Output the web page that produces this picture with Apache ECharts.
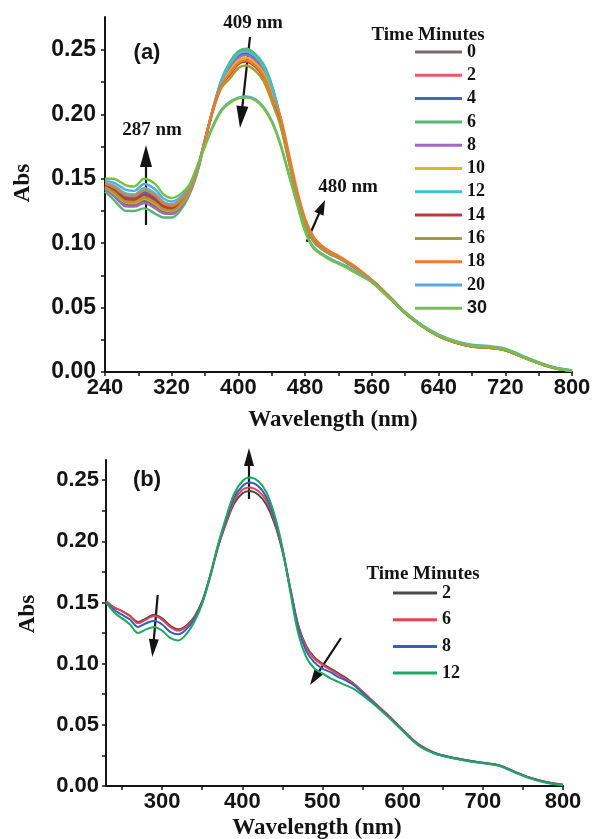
<!DOCTYPE html>
<html><head><meta charset="utf-8">
<script src="https://cdn.jsdelivr.net/npm/echarts@6/dist/echarts.min.js"></script>
<style>html,body{margin:0;padding:0;background:#fff}#c{width:597px;height:839px}</style>
</head><body><div id="c"></div>
<script>
// ---------- Panel (a) data ----------
const WL_A = [240,250,260,265,275,287,300,310,320,330,340,350,360,370,380,390,400,409,420,430,440,450,460,470,480,490,500,510,520,530,540,560,580,600,620,640,660,680,700,720,740,760,780,800];
const TIMES_A = ['0','2','4','6','8','10','12','14','16','18','20','30'];
const A_0  = [0.1425,0.1380,0.1320,0.1300,0.1297,0.1328,0.1288,0.1245,0.1237,0.1283,0.1379,0.1546,0.180,0.205,0.227,0.240,0.248,0.250,0.246,0.238,0.222,0.198,0.168,0.138,0.115,0.102,0.096,0.092,0.089,0.085,0.081,0.071,0.059,0.046,0.036,0.028,0.023,0.020,0.019,0.017,0.012,0.007,0.003,0.001];
const A_2  = [0.1443,0.1409,0.1356,0.1336,0.1331,0.1369,0.1329,0.1277,0.1264,0.1306,0.1394,0.1556,0.180,0.205,0.226,0.238,0.246,0.248,0.244,0.236,0.220,0.197,0.1674,0.138,0.115,0.1015,0.0955,0.0915,0.0885,0.0845,0.0805,0.0705,0.0585,0.0455,0.0355,0.0278,0.0228,0.0198,0.0188,0.0168,0.0118,0.0068,0.0028,0.0008];
const A_4  = [0.1454,0.1426,0.1377,0.1357,0.1352,0.1393,0.1353,0.1296,0.1280,0.1320,0.1403,0.1562,0.1805,0.2055,0.2255,0.237,0.245,0.247,0.243,0.235,0.219,0.1965,0.1671,0.138,0.1152,0.1022,0.0962,0.0922,0.0892,0.0852,0.0812,0.0712,0.0592,0.0462,0.0362,0.0282,0.0232,0.0202,0.0192,0.0172,0.0122,0.0072,0.0032,0.0012];
const A_6  = [0.1400,0.1340,0.1271,0.1251,0.1250,0.1270,0.1230,0.1200,0.1199,0.1251,0.1358,0.1532,0.1795,0.205,0.2275,0.241,0.249,0.251,0.247,0.239,0.223,0.1985,0.1683,0.1385,0.1148,0.1018,0.0958,0.0918,0.0888,0.0848,0.0808,0.0708,0.0588,0.0458,0.0358,0.028,0.023,0.020,0.019,0.017,0.012,0.007,0.003,0.001];
const A_8  = [0.1418,0.1369,0.1306,0.1286,0.1284,0.1311,0.1271,0.1232,0.1226,0.1274,0.1373,0.1542,0.180,0.205,0.225,0.236,0.244,0.246,0.242,0.234,0.218,0.196,0.1668,0.1375,0.1148,0.1015,0.0955,0.0915,0.0885,0.0848,0.0808,0.0708,0.0588,0.0458,0.0358,0.0279,0.0229,0.0199,0.0189,0.0169,0.0119,0.0069,0.0029,0.0009];
const A_10 = [0.1432,0.1392,0.1335,0.1315,0.1311,0.1344,0.1304,0.1258,0.1248,0.1292,0.1385,0.1550,0.180,0.2045,0.224,0.234,0.242,0.244,0.240,0.232,0.216,0.195,0.1662,0.1375,0.115,0.1018,0.0958,0.0918,0.0888,0.085,0.081,0.071,0.059,0.046,0.036,0.028,0.023,0.020,0.019,0.017,0.012,0.007,0.003,0.001];
const A_12 = [0.1468,0.1449,0.1406,0.1386,0.1379,0.1426,0.1386,0.1322,0.1302,0.1338,0.1415,0.1570,0.1805,0.2055,0.2265,0.239,0.247,0.249,0.245,0.237,0.221,0.1975,0.1677,0.138,0.1152,0.1022,0.0962,0.0922,0.0892,0.0854,0.0814,0.0714,0.0594,0.0464,0.0364,0.0286,0.0236,0.0206,0.0196,0.0176,0.0124,0.0074,0.0034,0.0014];
const A_14 = [0.1446,0.1414,0.1363,0.1343,0.1338,0.1377,0.1337,0.1284,0.1270,0.1310,0.1397,0.1558,0.1798,0.2045,0.2225,0.231,0.239,0.241,0.237,0.229,0.213,0.1935,0.1653,0.1375,0.1152,0.102,0.096,0.092,0.089,0.085,0.081,0.071,0.059,0.046,0.036,0.028,0.023,0.020,0.019,0.017,0.012,0.007,0.003,0.001];
const A_16 = [0.1436,0.1397,0.1342,0.1322,0.1318,0.1352,0.1312,0.1264,0.1253,0.1297,0.1388,0.1552,0.1795,0.204,0.221,0.228,0.236,0.238,0.234,0.226,0.210,0.192,0.1644,0.137,0.1148,0.1018,0.0958,0.0918,0.0888,0.0848,0.0808,0.0708,0.0588,0.0458,0.0358,0.0278,0.0228,0.0198,0.0188,0.0168,0.0118,0.0068,0.0028,0.0008];
const A_18 = [0.1461,0.1437,0.1391,0.1371,0.1365,0.1410,0.1370,0.1309,0.1291,0.1329,0.1409,0.1566,0.1808,0.2055,0.223,0.232,0.240,0.242,0.238,0.230,0.214,0.199,0.171,0.142,0.119,0.105,0.098,0.0935,0.0902,0.0862,0.082,0.0715,0.0593,0.0462,0.0362,0.0282,0.0232,0.0202,0.0192,0.0172,0.0122,0.0072,0.0032,0.0012];
const A_20 = [0.1482,0.1471,0.1434,0.1414,0.1406,0.1459,0.1419,0.1348,0.1324,0.1356,0.1427,0.1578,0.176,0.192,0.204,0.210,0.213,0.214,0.212,0.206,0.195,0.178,0.155,0.132,0.110,0.097,0.092,0.088,0.085,0.082,0.078,0.070,0.058,0.0462,0.0365,0.029,0.0242,0.0212,0.0202,0.0182,0.0128,0.0075,0.0034,0.0013];
const A_30 = [0.1500,0.1500,0.1469,0.1449,0.1440,0.1500,0.1460,0.1380,0.1351,0.1379,0.1442,0.1588,0.1755,0.191,0.203,0.209,0.2125,0.213,0.211,0.205,0.194,0.177,0.154,0.131,0.109,0.096,0.091,0.087,0.084,0.081,0.077,0.0695,0.0578,0.046,0.036,0.0285,0.0236,0.0205,0.0195,0.0175,0.0122,0.007,0.003,0.001];
const COLORS_A = ['#7a6a6a','#f0576b','#3a6fc0','#55b86e','#a066c8','#e8b020','#40c0d8','#b83c3c','#a0a030','#f07830','#58a8e8','#78c040'];
const SERIES_A = [A_0,A_2,A_4,A_6,A_8,A_10,A_12,A_14,A_16,A_18,A_20,A_30];

// ---------- Panel (b) data ----------
const WL_B = [230,240,250,260,270,280,290,300,310,320,330,340,350,360,370,380,390,400,409,420,430,440,450,460,470,480,490,500,510,520,530,540,560,580,600,620,640,660,680,700,720,740,760,780,800];
const TIMES_B = ['2','6','8','12'];
const B_2  = [0.151,0.146,0.143,0.139,0.134,0.137,0.140,0.137,0.131,0.128,0.131,0.138,0.151,0.172,0.196,0.215,0.231,0.239,0.241,0.238,0.230,0.215,0.192,0.161,0.131,0.114,0.105,0.100,0.096,0.092,0.088,0.083,0.071,0.059,0.046,0.034,0.027,0.0235,0.021,0.019,0.017,0.0115,0.0065,0.003,0.001];
const B_6  = [0.151,0.146,0.143,0.139,0.133,0.136,0.139,0.136,0.130,0.127,0.130,0.137,0.150,0.171,0.196,0.216,0.233,0.242,0.244,0.241,0.233,0.217,0.193,0.161,0.130,0.113,0.104,0.099,0.095,0.091,0.087,0.083,0.071,0.059,0.046,0.034,0.027,0.0235,0.021,0.019,0.017,0.0115,0.0065,0.003,0.001];
const B_8  = [0.150,0.144,0.140,0.136,0.130,0.133,0.135,0.132,0.126,0.124,0.128,0.136,0.150,0.172,0.197,0.218,0.236,0.245,0.248,0.245,0.236,0.219,0.194,0.160,0.128,0.110,0.101,0.096,0.093,0.089,0.086,0.082,0.070,0.058,0.0455,0.0335,0.0268,0.0233,0.0208,0.0188,0.0168,0.0113,0.0063,0.0028,0.0008];
const B_12 = [0.150,0.142,0.137,0.132,0.125,0.128,0.130,0.127,0.121,0.119,0.124,0.134,0.149,0.172,0.198,0.220,0.239,0.249,0.252,0.249,0.240,0.222,0.195,0.158,0.124,0.105,0.096,0.092,0.088,0.085,0.082,0.079,0.069,0.0575,0.045,0.033,0.0265,0.023,0.0205,0.0185,0.0165,0.011,0.006,0.0025,0.0006];
const COLORS_B = ['#4a4a4a','#f04050','#3060c0','#20a860'];
const SERIES_B = [B_2,B_6,B_8,B_12];

// ---------- tick labels ----------
const X_TICKS_A = [240,320,400,480,560,640,720,800];
const X_TICKS_B = [300,400,500,600,700,800];
const Y_TICKS = [0,0.05,0.10,0.15,0.20,0.25];

const SANS = '"Liberation Sans", Arial, sans-serif';
const SERIF = '"Liberation Serif", "Times New Roman", serif';
const INK = '#141414';

function mkSeries(prefix, wl, list, colors, times, idx, width) {
  return list.map((vals, i) => ({
    name: prefix + ':' + times[i],
    type: 'line',
    xAxisIndex: idx, yAxisIndex: idx,
    data: wl.map((w, j) => [w, vals[j]]),
    showSymbol: false, symbol: 'none', smooth: 0.35,
    itemStyle: {color: colors[i]},
    lineStyle: {color: colors[i], width: width},
    emphasis: {disabled: true},
    animation: false, z: 2
  }));
}

function xAxis(idx, min, max, ticks, minorVals) {
  return {
    type: 'value', gridIndex: idx, min: min, max: max,
    axisLine: {show: true, onZero: false, lineStyle: {color: INK, width: 2}},
    axisTick: {show: true, inside: false, length: 4, lineStyle: {color: INK, width: 1.5}, customValues: minorVals},
    axisLabel: {customValues: ticks, color: INK, fontFamily: SANS, fontWeight: 'bold', fontSize: 22, margin: 5, formatter: v => String(v)},
    splitLine: {show: false}
  };
}
function yAxis(idx, max, fs, margin) {
  return {
    type: 'value', gridIndex: idx, min: 0, max: max,
    axisLine: {show: true, onZero: false, lineStyle: {color: INK, width: 2}},
    axisTick: {show: true, inside: false, length: 4, lineStyle: {color: INK, width: 1.5}, customValues: [0,0.025,0.05,0.075,0.10,0.125,0.15,0.175,0.20,0.225,0.25]},
    axisLabel: {customValues: Y_TICKS, color: INK, fontFamily: SANS, fontWeight: 'bold', fontSize: fs, margin: margin, formatter: v => v.toFixed(2)},
    splitLine: {show: false}
  };
}

function arrow(x1, y1, x2, y2, hl, hw) {
  const dx = x2 - x1, dy = y2 - y1, L = Math.hypot(dx, dy);
  const ux = dx / L, uy = dy / L, px = -uy, py = ux;
  const bx = x2 - ux * hl, by = y2 - uy * hl;
  return {type: 'group', z: 20, children: [
    {type: 'line', shape: {x1: x1, y1: y1, x2: bx + ux * 2, y2: by + uy * 2}, style: {stroke: INK, lineWidth: 2.2}},
    {type: 'polygon', shape: {points: [[x2, y2], [bx + px * hw / 2, by + py * hw / 2], [bx - px * hw / 2, by - py * hw / 2]]}, style: {fill: INK}}
  ]};
}
function txt(x, y, s, font, size, rot) {
  return {type: 'text', x: x, y: y, rotation: rot || 0, z: 20,
    style: {text: s, fill: INK, font: 'bold ' + size + 'px ' + font, align: 'center', verticalAlign: 'middle'}};
}

const chart = echarts.init(document.getElementById('c'), null, {renderer: 'canvas'});
const legendBase = (names, left, top, w, gap) => ({
  data: names, orient: 'vertical', left: left, top: top, itemWidth: w, itemHeight: 3, itemGap: gap,
  icon: 'rect', selectedMode: false, padding: 0,
  textStyle: {fontFamily: SERIF, fontWeight: 'bold', fontSize: 18, lineHeight: 18, color: INK,
    rich: {s: {fontFamily: SANS, fontWeight: 'bold', fontSize: 18, lineHeight: 18, color: INK}}},
  formatter: n => { const t = n.split(':')[1]; return t === '30' ? '{s|30}' : t; }
});

chart.setOption({
  animation: false,
  backgroundColor: '#fff',
  grid: [
    {left: 105, right: 25, top: 17, bottom: 467},
    {left: 106, right: 34, top: 460, bottom: 53}
  ],
  xAxis: [
    xAxis(0, 240, 800, X_TICKS_A, [240,280,320,360,400,440,480,520,560,600,640,680,720,760,800]),
    xAxis(1, 230, 800, X_TICKS_B, [250,300,350,400,450,500,550,600,650,700,750,800])
  ],
  yAxis: [yAxis(0, 0.2756, 23, 9), yAxis(1, 0.2664, 22, 7)],
  legend: [
    legendBase(TIMES_A.map(t => 'a:' + t), 415, 43, 47, 5.3),
    legendBase(TIMES_B.map(t => 'b:' + t), 393, 584, 44, 8.7)
  ],
  series: mkSeries('a', WL_A, SERIES_A, COLORS_A, TIMES_A, 0, 2.4)
    .concat(mkSeries('b', WL_B, SERIES_B, COLORS_B, TIMES_B, 1, 2.0)),
  graphic: [
    txt(147, 53, '(a)', SANS, 22),
    txt(253, 23, '409 nm', SERIF, 19),
    txt(152, 130, '287 nm', SERIF, 19),
    txt(348, 187, '480 nm', SERIF, 19),
    txt(428, 35, 'Time Minutes', SERIF, 19),
    txt(23, 183, 'Abs', SERIF, 23, Math.PI / 2),
    txt(333, 420, 'Wavelength (nm)', SERIF, 23),
    arrow(146, 225, 146, 145, 22, 12),
    arrow(250, 37, 240, 128, 22, 12),
    arrow(306.7, 241.7, 325, 200, 15, 10),
    txt(147, 480, '(b)', SANS, 22),
    txt(423, 574, 'Time Minutes', SERIF, 19),
    txt(28, 614, 'Abs', SERIF, 23, Math.PI / 2),
    txt(317, 828, 'Wavelength (nm)', SERIF, 23),
    arrow(249, 499, 249, 448, 18, 10),
    arrow(157.7, 595, 152.3, 657, 18, 10),
    arrow(341, 638, 310, 685, 16, 10)
  ]
});
</script></body></html>
